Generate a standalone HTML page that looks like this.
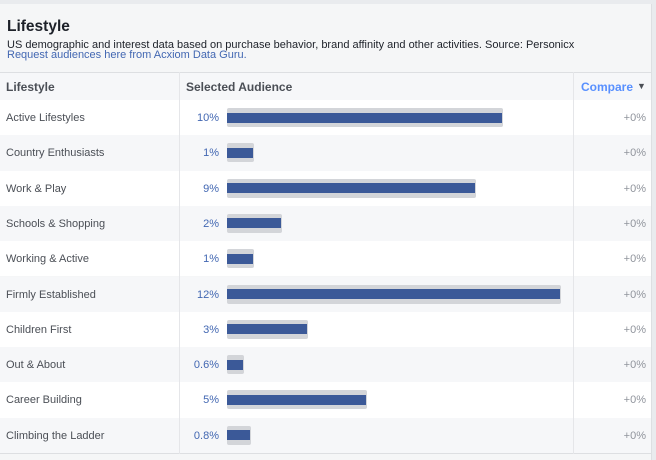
<!DOCTYPE html>
<html><head><style>
body{margin:0;width:656px;height:460px;background:#e9ebee;font-family:"Liberation Sans",sans-serif;overflow:hidden;position:relative}
.card{position:absolute;left:0;top:4px;width:651px;height:456px;background:#f5f6f7;border-right:1px solid #dddfe2}
.h1{position:absolute;left:7px;top:14px;font-size:15.5px;font-weight:bold;color:#1d2129}
.sub{position:absolute;left:7px;top:36px;font-size:11px;line-height:10px;color:#1d2129}
.sub a{color:#4267b2}
.th{position:absolute;top:68px;left:0;width:651px;height:27px;background:#f6f7f9;border-top:1px solid #dddfe2;border-bottom:1px solid #dddfe2;font-size:12px;font-weight:bold;color:#4b4f56}
.row{position:absolute;left:0;width:651px;height:35.3px;font-size:11px;color:#4b4f56}
.vl{position:absolute;top:68px;width:1px;height:382px;background:#e5e6e9}
.bg{position:absolute;left:227px;height:19px;background:#d3d5d9;border-radius:2px}
.fg{position:absolute;left:227px;height:10px;background:#3b5998}
</style></head><body>
<div class="card">
<div class="h1">Lifestyle</div>
<div class="sub">US demographic and interest data based on purchase behavior, brand affinity and other activities. Source: Personicx<br><a>Request audiences here from Acxiom Data Guru.</a></div>
<div class="th"><span style="position:absolute;left:6px;top:7px">Lifestyle</span><span style="position:absolute;left:186px;top:7px">Selected Audience</span><span style="position:absolute;left:581px;top:7px;color:#5890ff">Compare</span><span style="position:absolute;left:637px;top:8px;font-size:9px;color:#4b4f56">▼</span></div>
<div id="rows"></div>
<div style="position:absolute;left:0;top:449px;width:651px;height:1px;background:#dddfe2"></div>
<div class="vl" style="left:179px"></div><div class="vl" style="left:573px"></div>
</div>
<script>
var d=[["Active Lifestyles","10%",275],["Country Enthusiasts","1%",26],["Work & Play","9%",248],["Schools & Shopping","2%",54],["Working & Active","1%",26],["Firmly Established","12%",333],["Children First","3%",80],["Out & About","0.6%",16],["Career Building","5%",139],["Climbing the Ladder","0.8%",23]];
var h="";d.forEach(function(r,i){var t=96+i*35.3;h+='<div class="row" style="top:'+t+'px;background:'+(i%2?'#f6f7f9':'#fff')+'"><span style="position:absolute;left:6px;top:12px">'+r[0].replace('&','&amp;')+'</span><span style="position:absolute;right:432px;top:12px;color:#4267b2">'+r[1]+'</span><div class="bg" style="top:8px;width:'+(r[2]+1)+'px"></div><div class="fg" style="top:12.5px;width:'+r[2]+'px"></div><span style="position:absolute;right:5px;top:12px;color:#90949c">+0%</span></div>'});
document.getElementById("rows").innerHTML=h;
</script>
</body></html>
